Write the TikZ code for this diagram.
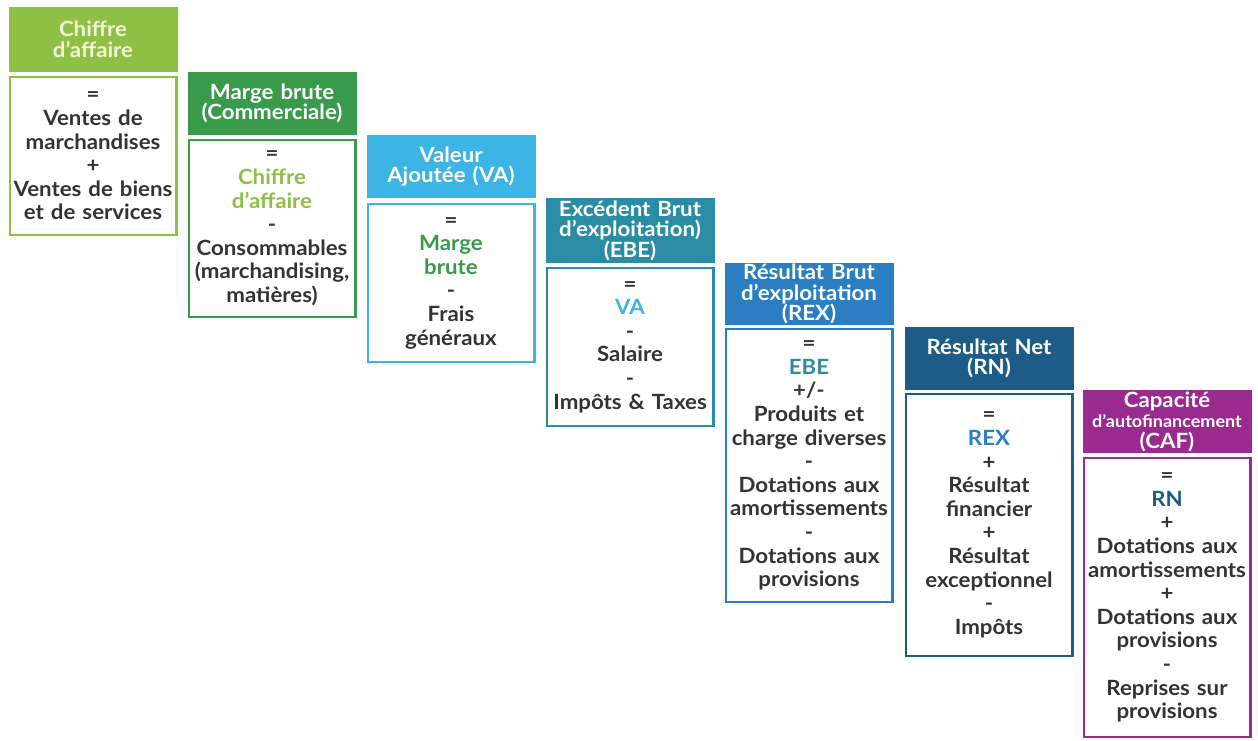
\documentclass[tikz,border=0pt]{standalone}
\usepackage{fontspec}
\setmainfont{Lato}[FakeStretch=1.06]
\definecolor{cA}{HTML}{8DC045}
\definecolor{cB}{HTML}{3A9A4C}
\definecolor{cC}{HTML}{3CB4E4}
\definecolor{cD}{HTML}{2A8CA5}
\definecolor{cE}{HTML}{2B7EC1}
\definecolor{cF}{HTML}{1D5C87}
\definecolor{cG}{HTML}{9A2A8E}
\definecolor{txt}{HTML}{333333}
\definecolor{hA}{HTML}{F2F6D6}
\tikzset{
  hdr/.style={rectangle, inner sep=0pt, minimum width=169pt, text width=166pt, align=center, text=white,
    font=\fontsize{21}{20.5}\selectfont\bfseries},
  bodybox/.style={rectangle, draw, line width=2.4pt, fill=white, inner sep=0pt, minimum width=166.6pt,
    text width=164pt, align=center, text=txt, font=\fontsize{21}{23.6}\selectfont\bfseries},
}
\begin{document}
\begin{tikzpicture}[x=1pt,y=-1pt]
\useasboundingbox (0,0) rectangle (1258,740);
% column 1
\node[hdr, fill=cA, text=hA, minimum height=65pt] (h1) at (93,39.5) {Chiffre\\d’affaire};
\node[bodybox, draw=cA, minimum height=157.6pt] (b1) at (93,156) {=\\Ventes de\\marchandises\\+\\Ventes de biens\\et de services};
% column 2
\node[hdr, fill=cB, minimum height=63pt] (h2) at (272,103.5) {Marge brute\\(Commerciale)};
\node[bodybox, draw=cB, minimum height=176.6pt] (b2) at (272,228.5) {=\\\textcolor{cA}{Chiffre}\\\textcolor{cA}{d’affaire}\\-\\Consommables\\(marchandising,\\matières)};
% column 3
\node[hdr, fill=cC, minimum height=63pt] (h3) at (451,166.5) {Valeur\\Ajoutée (VA)};
\node[bodybox, draw=cC, minimum height=157.6pt] (b3) at (451,283) {=\\\textcolor{cB}{Marge}\\\textcolor{cB}{brute}\\-\\Frais\\généraux};
% column 4
\node[hdr, fill=cD, minimum height=65pt] (h4) at (630,230.5) {Excédent Brut\\d’exploitation)\\(EBE)};
\node[bodybox, draw=cD, minimum height=157.6pt] (b4) at (630,347) {=\\\textcolor{cC}{VA}\\-\\Salaire\\-\\Impôts \& Taxes};
% column 5
\node[hdr, fill=cE, minimum height=62pt] (h5) at (809,294) {Résultat Brut\\d’exploitation\\(REX)};
\node[bodybox, draw=cE, minimum height=272.6pt] (b5) at (809,465.5) {=\\\textcolor{cD}{EBE}\\+/-\\Produits et\\charge diverses\\-\\Dotations aux\\amortissements\\-\\Dotations aux\\provisions};
% column 6
\node[hdr, fill=cF, minimum height=63pt] (h6) at (989,358.5) {Résultat Net\\(RN)};
\node[bodybox, draw=cF, minimum height=261.6pt] (b6) at (989,525) {=\\\textcolor{cE}{REX}\\+\\Résultat\\financier\\+\\Résultat\\exceptionnel\\-\\Impôts};
% column 7
\node[hdr, fill=cG, minimum height=63pt] (h7) at (1167,421.5) {Capacité\\\mbox{\fontsize{17}{18}\selectfont d’autofinancement}\\(CAF)};
\node[bodybox, draw=cG, minimum height=278.6pt] (b7) at (1167,597.5) {=\\\textcolor{cF}{RN}\\+\\Dotations aux\\amortissements\\+\\Dotations aux\\provisions\\-\\Reprises sur\\provisions};
\end{tikzpicture}
\end{document}
